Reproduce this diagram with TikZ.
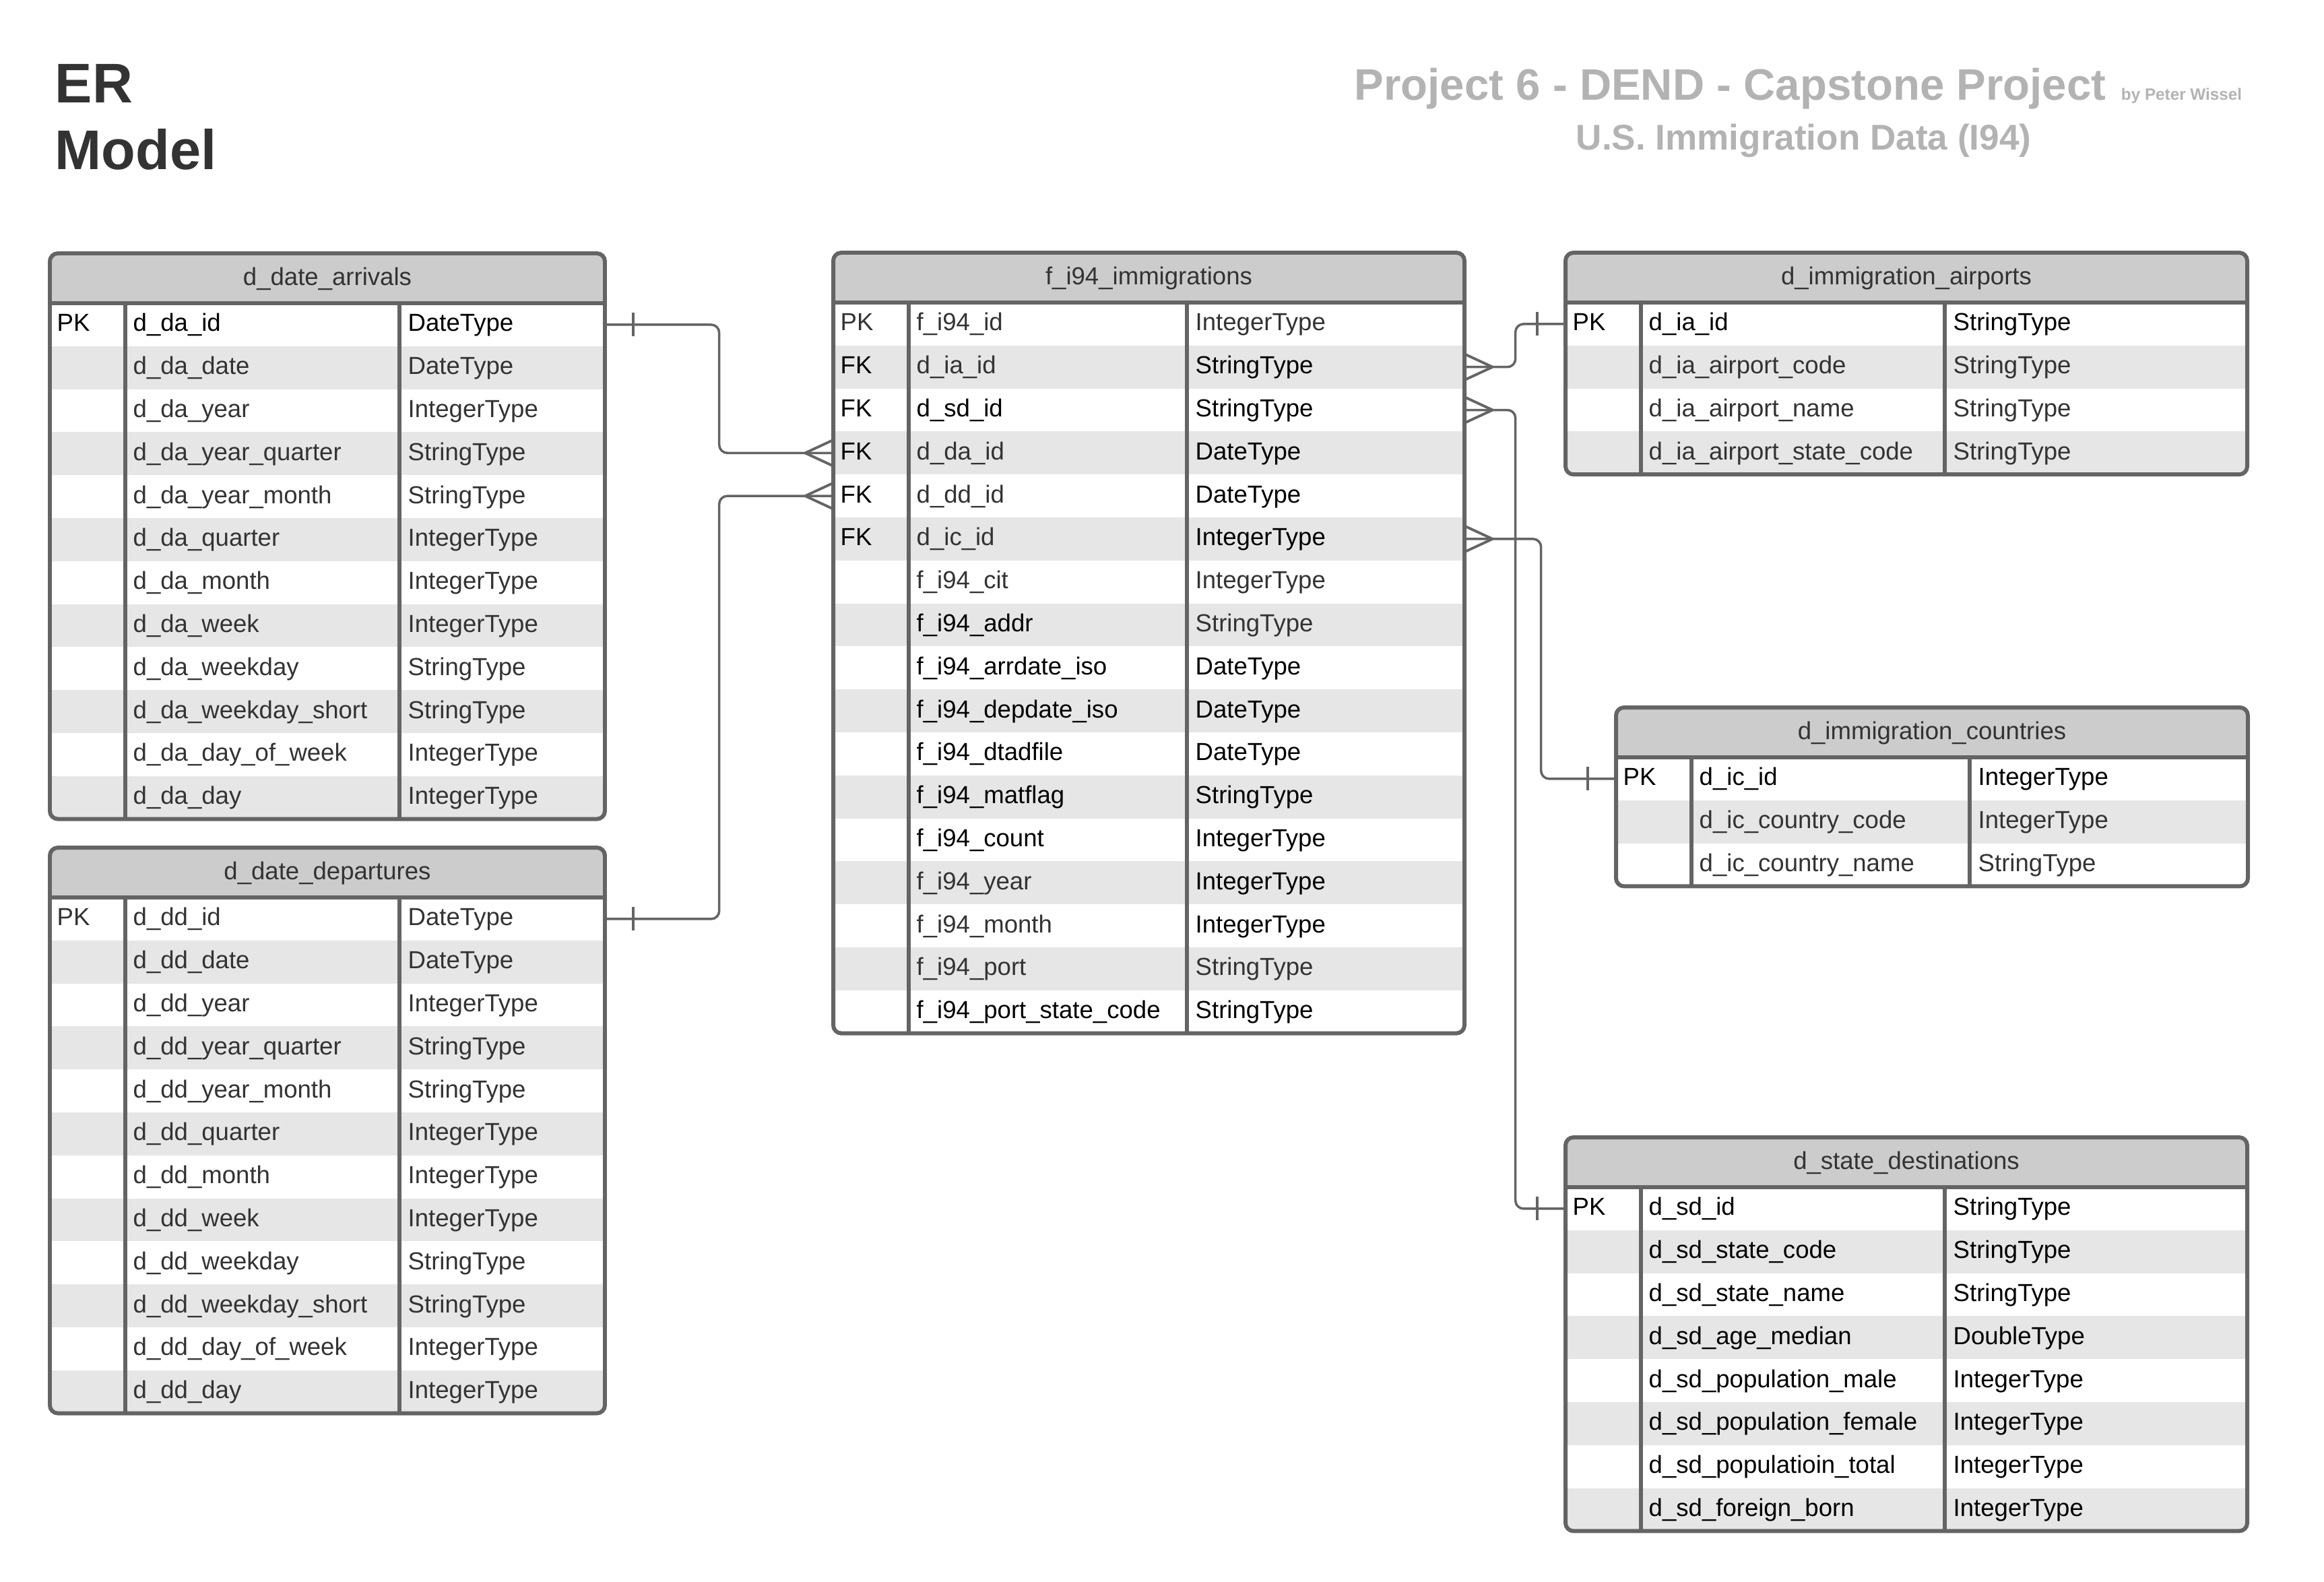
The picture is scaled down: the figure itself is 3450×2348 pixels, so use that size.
\documentclass[tikz,border=0pt]{standalone}
\usepackage{fontspec}
\setmainfont{Liberation Sans}
\usetikzlibrary{calc,positioning}

\definecolor{edge}{HTML}{646464}
\definecolor{headfill}{HTML}{CCCCCC}
\definecolor{stripefill}{HTML}{E6E6E6}
\definecolor{lo}{HTML}{333333}
\colorlet{hi}{black}
\definecolor{titlegray}{HTML}{B3B3B3}

\tikzset{
  frame/.style={draw=edge, line width=1.7pt, rounded corners=3.4pt},
  rule/.style={draw=edge, line width=1.7pt},
  conn/.style={draw=edge, line width=1pt, rounded corners=3.4pt},
  foot/.style={draw=edge, line width=1.1pt},
  cell/.style={inner sep=0pt, anchor=base west, font=\fontsize{10.4}{12}\selectfont},
  headtext/.style={inner sep=0pt, anchor=base, text=lo, font=\fontsize{10.4}{12}\selectfont},
  rowbox/.style={inner sep=0pt, minimum height=0.638cm},
  bigtitle/.style={inner sep=0pt, anchor=base west, text=lo, font=\bfseries\fontsize{23.6}{28}\selectfont},
  graytitle/.style={inner sep=0pt, anchor=base west, text=titlegray},
}

% #1 name, #2 left, #3 top, #4 width, #5 first rule, #6 second rule, #7 title, #8 rows
\newcommand{\ertable}[8]{%
  \foreach \r [count=\m] in {#8} {\xdef\nrows{\m}}
  \pgfmathsetmacro{\ybot}{#3+74+63.8*\nrows}
  \begin{scope}
    \clip[rounded corners=3.4pt] (#2,#3) rectangle ({#2+#4},\ybot);
    \fill[headfill] (#2,#3) rectangle ({#2+#4},{#3+74});
    \foreach \fkey/\fname/\ftype/\cname/\ctype [count=\i] in {#8} {
      \ifodd\i\else
        \fill[stripefill] (#2,{#3+74+63.8*(\i-1)}) rectangle ({#2+#4},{#3+74+63.8*\i});
      \fi
    }
  \end{scope}
  \foreach \fkey/\fname/\ftype/\cname/\ctype [count=\i] in {#8} {
    \node[rowbox, minimum width=#4*0.01cm] (#1-\i) at ({#2+#4/2},{#3+74+63.8*(\i-0.5)}) {};
    \node[cell, text=\ctype] at ({#2+10},{#3+84+63.8*(\i-0.5)}) {\fkey};
    \node[cell, text=\cname] at ({#2+#5+11},{#3+84+63.8*(\i-0.5)}) {\fname};
    \node[cell, text=\ctype] at ({#2+#6+12},{#3+84+63.8*(\i-0.5)}) {\ftype};
  }
  \draw[rule] ({#2+#5},{#3+74}) -- ({#2+#5},\ybot);
  \draw[rule] ({#2+#6},{#3+74}) -- ({#2+#6},\ybot);
  \draw[rule] (#2,{#3+74}) -- ({#2+#4},{#3+74});
  \draw[frame] (#2,#3) rectangle ({#2+#4},\ybot);
  \node[headtext] (#1) at ({#2+#4/2},{#3+47}) {#7};
}

% many end, #2 = 1 right of the table, -1 left of it
\newcommand{\crow}[2]{%
  \draw[foot] ($(#1)+(#2*41,0)$) -- ($(#1)+(0,19)$);
  \draw[foot] ($(#1)+(#2*41,0)$) -- ($(#1)+(0,-19)$);
}
% one end
\newcommand{\onebar}[2]{\draw[foot] ($(#1)+(#2*41,-17.5)$) -- ++(0,35);}

\begin{document}
\begin{tikzpicture}[x=0.01cm, y=-0.01cm]
  \useasboundingbox (0,0) rectangle (3450,2348);

  \node[bigtitle] (er) at (81,152) {ER};
  \node[bigtitle] (model) at (81,251) {Model};
  \node[graytitle, font=\bfseries\fontsize{18.6}{22}\selectfont] (project) at (2010,148) {Project 6 - DEND - Capstone Project};
  \node[graytitle, font=\bfseries\fontsize{6.9}{8}\selectfont] (author) at ([xshift=0.21cm]project.base east) {by Peter Wissel};
  \node[graytitle, font=\bfseries\fontsize{15.1}{18}\selectfont] (subtitle) at (2339,222) {U.S. Immigration Data (I94)};

  \ertable{arr}{74}{376}{824}{112}{519}{d\_date\_arrivals}{
    PK/d\_da\_id/DateType/hi/hi,
    /d\_da\_date/DateType/lo/lo,
    /d\_da\_year/IntegerType/lo/lo,
    /d\_da\_year\_quarter/StringType/lo/lo,
    /d\_da\_year\_month/StringType/lo/lo,
    /d\_da\_quarter/IntegerType/lo/lo,
    /d\_da\_month/IntegerType/lo/lo,
    /d\_da\_week/IntegerType/lo/lo,
    /d\_da\_weekday/StringType/lo/lo,
    /d\_da\_weekday\_short/StringType/lo/lo,
    /d\_da\_day\_of\_week/IntegerType/lo/lo,
    /d\_da\_day/IntegerType/lo/lo}

  \ertable{dep}{74}{1258}{824}{112}{519}{d\_date\_departures}{
    PK/d\_dd\_id/DateType/lo/lo,
    /d\_dd\_date/DateType/lo/lo,
    /d\_dd\_year/IntegerType/lo/lo,
    /d\_dd\_year\_quarter/StringType/lo/lo,
    /d\_dd\_year\_month/StringType/lo/lo,
    /d\_dd\_quarter/IntegerType/lo/lo,
    /d\_dd\_month/IntegerType/lo/lo,
    /d\_dd\_week/IntegerType/lo/lo,
    /d\_dd\_weekday/StringType/lo/lo,
    /d\_dd\_weekday\_short/StringType/lo/lo,
    /d\_dd\_day\_of\_week/IntegerType/lo/lo,
    /d\_dd\_day/IntegerType/lo/lo}

  \ertable{imm}{1237}{375}{937}{112}{525}{f\_i94\_immigrations}{
    PK/f\_i94\_id/IntegerType/lo/lo,
    FK/d\_ia\_id/StringType/lo/hi,
    FK/d\_sd\_id/StringType/hi/hi,
    FK/d\_da\_id/DateType/lo/hi,
    FK/d\_dd\_id/DateType/lo/hi,
    FK/d\_ic\_id/IntegerType/lo/hi,
    /f\_i94\_cit/IntegerType/lo/lo,
    /f\_i94\_addr/StringType/hi/lo,
    /f\_i94\_arrdate\_iso/DateType/hi/hi,
    /f\_i94\_depdate\_iso/DateType/hi/hi,
    /f\_i94\_dtadfile/DateType/hi/hi,
    /f\_i94\_matflag/StringType/hi/hi,
    /f\_i94\_count/IntegerType/hi/hi,
    /f\_i94\_year/IntegerType/lo/hi,
    /f\_i94\_month/IntegerType/lo/hi,
    /f\_i94\_port/StringType/lo/lo,
    /f\_i94\_port\_state\_code/StringType/hi/hi}

  \ertable{air}{2324}{375}{1012}{112}{563}{d\_immigration\_airports}{
    PK/d\_ia\_id/StringType/hi/hi,
    /d\_ia\_airport\_code/StringType/lo/lo,
    /d\_ia\_airport\_name/StringType/lo/lo,
    /d\_ia\_airport\_state\_code/StringType/lo/lo}

  \ertable{cty}{2399}{1050}{938}{112}{525}{d\_immigration\_countries}{
    PK/d\_ic\_id/IntegerType/hi/hi,
    /d\_ic\_country\_code/IntegerType/lo/lo,
    /d\_ic\_country\_name/StringType/lo/lo}

  \ertable{sta}{2324}{1688}{1012}{112}{563}{d\_state\_destinations}{
    PK/d\_sd\_id/StringType/hi/hi,
    /d\_sd\_state\_code/StringType/hi/hi,
    /d\_sd\_state\_name/StringType/hi/hi,
    /d\_sd\_age\_median/DoubleType/hi/hi,
    /d\_sd\_population\_male/IntegerType/hi/hi,
    /d\_sd\_population\_female/IntegerType/hi/hi,
    /d\_sd\_populatioin\_total/IntegerType/hi/hi,
    /d\_sd\_foreign\_born/IntegerType/hi/hi}

  % relations
  \draw[conn] (arr-1.east) -- ++(169,0) |- (imm-4.west);
  \draw[conn] (dep-1.east) -- ++(169,0) |- (imm-5.west);
  \draw[conn] (imm-2.east) -- ++(75,0) |- (air-1.west);
  \draw[conn] (imm-3.east) -- ++(75,0) |- (sta-1.west);
  \draw[conn] (imm-6.east) -- ++(113,0) |- (cty-1.west);

  \crow{imm-4.west}{-1}
  \crow{imm-5.west}{-1}
  \crow{imm-2.east}{1}
  \crow{imm-3.east}{1}
  \crow{imm-6.east}{1}

  \onebar{arr-1.east}{1}
  \onebar{dep-1.east}{1}
  \onebar{air-1.west}{-1}
  \onebar{sta-1.west}{-1}
  \onebar{cty-1.west}{-1}
\end{tikzpicture}
\end{document}
